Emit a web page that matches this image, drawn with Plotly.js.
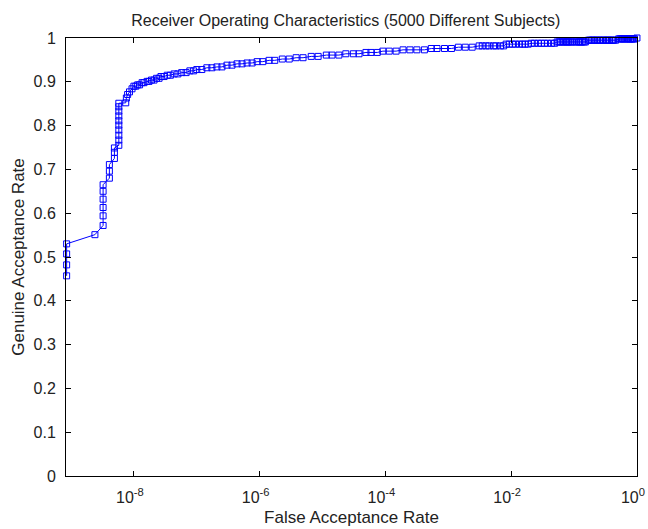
<!DOCTYPE html>
<html>
<head>
<meta charset="utf-8">
<script src="https://cdn.plot.ly/plotly-3.0.1.min.js"></script>
<style>html,body{margin:0;padding:0;background:#fff;}#plot{width:648px;height:529px;}</style>
</head>
<body>
<div id="plot"></div>
<script>
// False acceptance rate, read as log10 exponents off the log axis
const farExponent = [
  -9.07, -9.07, -9.07, -9.07,
  -8.62,
  -8.49, -8.49, -8.49, -8.49, -8.49, -8.49,
  -8.39, -8.39, -8.39,
  -8.31, -8.31, -8.31,
  -8.24, -8.24, -8.24, -8.24, -8.24, -8.24, -8.24, -8.24, -8.24, -8.24,
  -8.13, -8.12, -8.10, -8.07, -8.03,
  -8.00, -7.97,
  -7.94, -7.91,
  -7.87, -7.84,
  -7.79, -7.76,
  -7.72, -7.68,
  -7.64, -7.60,
  -7.57, -7.52,
  -7.47, -7.42,
  -7.36, -7.30,
  -7.24, -7.17,
  -7.11, -7.05,
  -7.00, -6.92,
  -6.84, -6.76,
  -6.68, -6.60,
  -6.52, -6.44,
  -6.36, -6.28,
  -6.20, -6.12,
  -6.04, -5.95,
  -5.85, -5.76,
  -5.64, -5.53,
  -5.42, -5.31,
  -5.18, -5.07,
  -4.94, -4.85, -4.74,
  -4.63, -4.51, -4.42,
  -4.31, -4.23, -4.13,
  -4.04, -3.94, -3.83,
  -3.72, -3.61, -3.50, -3.38,
  -3.27, -3.18, -3.06, -2.95,
  -2.84, -2.73, -2.62,
  -2.51, -2.46, -2.40, -2.35, -2.28, -2.24, -2.17, -2.12,
  -2.08, -2.03, -1.98, -1.93, -1.87, -1.82, -1.78, -1.73,
  -1.68, -1.63, -1.57, -1.52, -1.47, -1.42, -1.36, -1.31,
  -1.27, -1.24, -1.22, -1.19, -1.17, -1.14, -1.12, -1.10, -1.08, -1.05, -1.03, -0.99, -0.96, -0.93, -0.91, -0.89, -0.87, -0.84, -0.82,
  -0.77, -0.75, -0.72, -0.70, -0.68, -0.65, -0.63, -0.60, -0.58, -0.55, -0.53, -0.50, -0.48, -0.46, -0.44, -0.41, -0.39, -0.37, -0.34,
  -0.29, -0.27, -0.25, -0.23, -0.21, -0.19, -0.17, -0.15, -0.13, -0.11, -0.10, -0.08, -0.07, -0.05, -0.04,
  0.00
];
// Genuine acceptance rate
const gar = [
  0.457, 0.482, 0.507, 0.530,
  0.551,
  0.572, 0.594, 0.613, 0.632, 0.650, 0.665,
  0.680, 0.696, 0.711,
  0.725, 0.739, 0.749,
  0.755, 0.767, 0.778, 0.790, 0.801, 0.811, 0.822, 0.833, 0.843, 0.851,
  0.852, 0.863, 0.871, 0.877, 0.884,
  0.890, 0.890,
  0.893, 0.893,
  0.898, 0.898,
  0.901, 0.901,
  0.904, 0.904,
  0.908, 0.908,
  0.912, 0.912,
  0.915, 0.915,
  0.918, 0.918,
  0.921, 0.921,
  0.925, 0.925,
  0.928, 0.928,
  0.932, 0.932,
  0.934, 0.934,
  0.938, 0.938,
  0.941, 0.941,
  0.943, 0.943,
  0.946, 0.946,
  0.949, 0.949,
  0.952, 0.952,
  0.955, 0.955,
  0.958, 0.958,
  0.961, 0.961, 0.961,
  0.964, 0.964, 0.964,
  0.967, 0.967, 0.967,
  0.970, 0.970, 0.970,
  0.973, 0.973, 0.973, 0.973,
  0.976, 0.976, 0.976, 0.976,
  0.979, 0.979, 0.979,
  0.982, 0.982, 0.982, 0.982, 0.982, 0.982, 0.982, 0.982,
  0.986, 0.986, 0.986, 0.986, 0.986, 0.986, 0.986, 0.986,
  0.988, 0.988, 0.988, 0.988, 0.988, 0.988, 0.988, 0.988,
  0.991, 0.991, 0.991, 0.991, 0.991, 0.991, 0.991, 0.991, 0.991, 0.991, 0.991, 0.991, 0.991, 0.991, 0.991, 0.991, 0.991, 0.991, 0.991,
  0.995, 0.995, 0.995, 0.995, 0.995, 0.995, 0.995, 0.995, 0.995, 0.995, 0.995, 0.995, 0.995, 0.995, 0.995, 0.995, 0.995, 0.995, 0.995,
  0.998, 0.998, 0.998, 0.998, 0.998, 0.998, 0.998, 0.998, 0.998, 0.998, 0.998, 0.998, 0.998, 0.998, 0.998,
  1.000
];
const far = farExponent.map(e => Math.pow(10, e));

const xTickVals = [1e-8, 1e-6, 1e-4, 1e-2, 1];
const xTickText = ['10<sup>-8</sup>', '10<sup>-6</sup>', '10<sup>-4</sup>', '10<sup>-2</sup>', '10<sup>0</sup>'];
const yTickVals = [0, 0.1, 0.2, 0.3, 0.4, 0.5, 0.6, 0.7, 0.8, 0.9, 1];
const yTickText = ['0', '0.1', '0.2', '0.3', '0.4', '0.5', '0.6', '0.7', '0.8', '0.9', '1'];

const fontFam = 'Liberation Sans, Arial, sans-serif';

Plotly.newPlot('plot', [{
  x: far, y: gar,
  type: 'scatter', mode: 'lines+markers',
  cliponaxis: false,
  line: {color: '#0000ff', width: 1},
  marker: {symbol: 'square-open', size: 6, color: '#0000ff', line: {width: 1, color: '#0000ff'}},
  showlegend: false
}], {
  width: 648, height: 529,
  margin: {l: 66, r: 11, t: 38, b: 53},
  paper_bgcolor: '#fff', plot_bgcolor: '#fff',
  font: {family: fontFam, size: 16, color: '#222'},
  title: {text: 'Receiver Operating Characteristics (5000 Different Subjects)', xref: 'paper', x: 0.49, xanchor: 'center', yref: 'container', y: 0.962, yanchor: 'middle', font: {size: 16, color: '#222'}},
  xaxis: {
    type: 'log', range: [-9.08, 0.001],
    tickvals: xTickVals, ticktext: xTickText,
    ticks: 'inside', ticklen: 5, tickcolor: '#000', tickwidth: 1,
    ticklabelstandoff: 7,
    ticklabelshift: -4,
    ticklabeloverflow: 'allow',
    tickfont: {size: 16},
    showline: true, linecolor: '#000', linewidth: 1, mirror: 'ticks',
    showgrid: false, zeroline: false,
    title: {text: 'False Acceptance Rate', standoff: 5, font: {size: 17}}
  },
  yaxis: {
    range: [0, 1],
    tickvals: yTickVals, ticktext: yTickText,
    ticks: 'inside', ticklen: 5, tickcolor: '#000', tickwidth: 1,
    ticklabelstandoff: 6,
    tickfont: {size: 16},
    showline: true, linecolor: '#000', linewidth: 1, mirror: 'ticks',
    showgrid: false, zeroline: false,
    title: {text: 'Genuine Acceptance Rate', standoff: 4, font: {size: 17}}
  }
}, {displayModeBar: false, staticPlot: true});
</script>
</body>
</html>
